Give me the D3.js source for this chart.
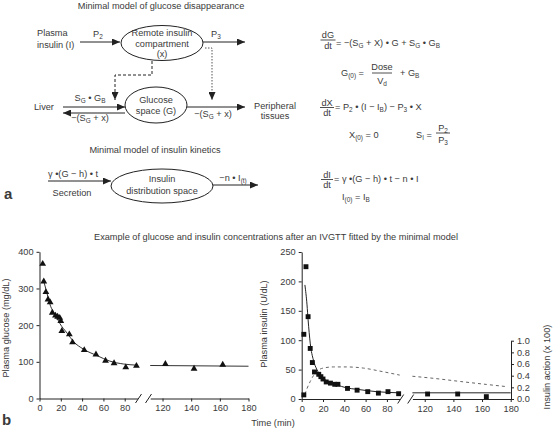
<!DOCTYPE html>
<html><head><meta charset="utf-8">
<script src="https://cdn.jsdelivr.net/npm/d3@7"></script>
<style>body{margin:0;background:#fff}svg{display:block}text{font-family:"Liberation Sans",Arial,sans-serif;fill:#3a3a3a}</style>
</head><body><svg id="c" width="553" height="433"></svg>
<script>
// ---------- data ----------
const glucoseTime  = [3, 4, 6, 8, 10, 12, 15, 17, 19, 20, 21, 28, 31, 42, 53, 62, 70, 81, 91, 122, 142, 162];
const glucoseValue = [367, 319, 290, 270, 262, 234, 226, 223, 220, 211, 184, 175, 153, 132, 120, 103, 96, 85, 89, 94, 81, 92];
const glucoseFitTime  = [4, 7, 10, 15, 19, 26, 32, 41, 54, 66, 79, 91];
const glucoseFitValue = [320, 287, 255, 228, 205, 178, 155, 135, 117, 102, 94, 91];
const glucoseFitLateTime  = [111.4, 180];
const glucoseFitLateValue = [90, 88];

const insulinTime  = [2, 2, 4, 6, 8, 10, 12, 16, 18, 20, 23, 27, 31, 34, 43, 52, 62, 72, 81, 91, 122, 143, 163];
const insulinValue = [7, 110, 225, 140, 86, 62, 46, 42, 38, 34, 29, 27, 25, 25, 18, 15, 12.5, 10, 12.5, 9, 8.5, 8.5, 4];
const insulinFitTime  = [3, 5, 6, 8, 11, 14, 19, 25, 33, 42, 52, 70, 92];
const insulinFitValue = [194, 160, 135, 95, 66, 51, 38, 29, 24, 19, 16.5, 12.5, 10.5];
const insulinFitLateTime  = [111.4, 180];
const insulinFitLateValue = [10.5, 10.5];

const actionTime  = [3, 5, 8, 11, 14, 20, 30, 42, 58, 73, 92];
const actionValue = [0.08, 0.18, 0.30, 0.40, 0.47, 0.53, 0.55, 0.55, 0.53, 0.48, 0.41];
const actionLateTime  = [111.4, 126, 145, 163, 178];
const actionLateValue = [0.39, 0.355, 0.30, 0.25, 0.21];

const xTicksEarly = [0, 20, 40, 60, 80];
const xTicksLate  = [120, 140, 160, 180];
const glucoseTicks = [0, 100, 200, 300, 400];
const insulinTicks = [0, 50, 100, 150, 200, 250];
const actionTicks  = [0, 0.2, 0.4, 0.6, 0.8, 1.0];

// ---------- helpers ----------
const svg = d3.select('#c');
const FS = 9.2;
const INK = '#222';
function rich(sel, x, y, str, anchor, fs) {
  anchor = anchor || 'start'; fs = fs || FS;
  const t = sel.append('text').attr('x', x).attr('y', y).attr('text-anchor', anchor).attr('font-size', fs);
  const re = /_\{([^}]*)\}/g; let last = 0, m, shifted = false;
  while ((m = re.exec(str))) {
    if (m.index > last) { t.append('tspan').attr('dy', shifted ? -2 : 0).text(str.slice(last, m.index)); shifted = false; }
    t.append('tspan').attr('font-size', fs * 0.7).attr('dy', shifted ? 0 : 2).text(m[1]);
    shifted = true; last = re.lastIndex;
  }
  if (last < str.length) t.append('tspan').attr('dy', shifted ? -2 : 0).text(str.slice(last));
  return t;
}
const defs = svg.append('defs');
defs.append('marker').attr('id', 'arr').attr('markerUnits', 'userSpaceOnUse')
  .attr('markerWidth', 9).attr('markerHeight', 7).attr('refX', 8).attr('refY', 3.5).attr('orient', 'auto')
  .append('path').attr('d', 'M0,0L8,3.5L0,7Z').attr('fill', INK);
function arrow(pts, opts) {
  opts = opts || {};
  const p = svg.append('path').attr('d', d3.line()(pts)).attr('fill', 'none')
    .attr('stroke', opts.color || INK).attr('stroke-width', opts.w || 1).attr('marker-end', 'url(#arr)');
  if (opts.dash) p.attr('stroke-dasharray', opts.dash);
  return p;
}
function ellipse(cx, cy, rx, ry) {
  svg.append('ellipse').attr('cx', cx).attr('cy', cy).attr('rx', rx).attr('ry', ry)
    .attr('fill', 'none').attr('stroke', INK).attr('stroke-width', 1);
}
function frac(x, yTop, yLine, yBot, top, bot, w) {
  rich(svg, x, yTop, top, 'middle');
  rich(svg, x, yBot, bot, 'middle');
  svg.append('line').attr('x1', x - w / 2).attr('x2', x + w / 2).attr('y1', yLine).attr('y2', yLine)
    .attr('stroke', INK).attr('stroke-width', 0.8);
}

// ---------- panel a: diagram ----------
rich(svg, 161, 9, 'Minimal model of glucose disappearance', 'middle');
rich(svg, 37, 36, 'Plasma');
rich(svg, 37, 48, 'insulin (I)');
arrow([[80, 42], [120, 42]]);
rich(svg, 93, 37, 'P_{2}');
ellipse(162, 43, 41, 17.5);
rich(svg, 162, 36, 'Remote insulin', 'middle');
rich(svg, 162, 47, 'compartment', 'middle');
rich(svg, 162, 57, '(x)', 'middle');
arrow([[203, 42], [245, 42]]);
rich(svg, 211, 37, 'P_{3}');
arrow([[152, 61], [152, 75], [115, 75], [115, 100]], { dash: '3,2' });
arrow([[205, 48], [212, 48], [212, 100]], { dash: '1.5,1.5', color: '#555' });

ellipse(156, 105, 31, 18);
rich(svg, 156, 103, 'Glucose', 'middle');
rich(svg, 156, 114, 'space (G)', 'middle');
rich(svg, 34, 110, 'Liver');
arrow([[63, 107], [125, 107]]);
arrow([[125, 113], [63, 113]]);
rich(svg, 90, 101, 'S_{G} • G_{B}', 'middle');
rich(svg, 90, 121, '−(S_{G} + x)', 'middle');
arrow([[187, 107], [245, 107]]);
rich(svg, 213, 117, '−(S_{G} + x)', 'middle');
rich(svg, 275, 109, 'Peripheral', 'middle');
rich(svg, 275, 119, 'tissues', 'middle');

rich(svg, 155, 153, 'Minimal model of insulin kinetics', 'middle');
rich(svg, 48, 177, 'γ •(G − h) • t');
arrow([[48, 181], [111, 181]]);
rich(svg, 72, 196, 'Secretion', 'middle');
ellipse(162, 186, 51, 17);
rich(svg, 162, 182, 'Insulin', 'middle');
rich(svg, 162, 194, 'distribution space', 'middle');
arrow([[213, 185], [258, 185]]);
rich(svg, 233, 181, '−n • I_{(t)}', 'middle');
svg.append('text').attr('x', 4).attr('y', 199).attr('font-size', 15).attr('font-weight', 'bold').attr('fill', '#111').text('a');

// equations
frac(328, 37.5, 40, 48.5, 'dG', 'dt', 15);
rich(svg, 336, 46, '= −(S_{G} + X) • G + S_{G} • G_{B}');
rich(svg, 341, 76, 'G_{(0)} =');
frac(382, 70, 73, 84, 'Dose', 'V_{d}', 20);
rich(svg, 400, 76, '+ G_{B}');
frac(327, 105.5, 107.5, 115.5, 'dX', 'dt', 14);
rich(svg, 335, 110, '= P_{2} • (I − I_{B}) − P_{3} • X');
rich(svg, 349, 138, 'X_{(0)} = 0');
rich(svg, 416, 138, 'S_{I} =');
frac(443, 130.5, 133, 143, 'P_{2}', 'P_{3}', 14);
frac(327, 177.5, 179.5, 187.5, 'dI', 'dt', 12);
rich(svg, 334, 182, '= γ •(G − h) • t − n • I');
rich(svg, 342, 200, 'I_{(0)} = I_{B}');

// ---------- panel b: charts ----------
rich(svg, 276, 240, 'Example of glucose and insulin concentrations after an IVGTT fitted by the minimal model', 'middle');

function brokenX(x0) {
  const early = d3.scaleLinear().domain([0, 92]).range([x0, x0 + 98]);
  const late = d3.scaleLinear().domain([111.4, 180]).range([x0 + 110.7, x0 + 209]);
  const f = t => (t < 100 ? early(t) : late(t));
  f.early = early; f.late = late; f.x0 = x0;
  return f;
}
function drawXAxis(x, y0) {
  [[x.early, xTicksEarly], [x.late, xTicksLate]].forEach(([s, tv]) => {
    const g = svg.append('g').attr('transform', `translate(0,${y0})`)
      .call(d3.axisBottom(s).tickValues(tv).tickSize(3).tickSizeOuter(0).tickPadding(3).tickFormat(d3.format('d')));
    styleAxis(g);
  });
  const x0 = x.x0;
  [[96, 102], [106, 112]].forEach(([a, b]) => {
    svg.append('line').attr('x1', x0 + a).attr('y1', y0 + 4.5).attr('x2', x0 + b).attr('y2', y0 - 4.5)
      .attr('stroke', INK).attr('stroke-width', 1);
  });
}
function styleAxis(g) {
  g.selectAll('path.domain').attr('stroke', INK).attr('stroke-width', 1);
  g.selectAll('.tick line').attr('stroke', INK);
  g.selectAll('.tick text').attr('font-size', FS).attr('fill', '#3a3a3a').attr('font-family', '"Liberation Sans",Arial,sans-serif');
}
function series(tArr, vArr) { return tArr.map((t, i) => [t, vArr[i]]); }

// left: glucose
const xL = brokenX(39.5);
const yG = d3.scaleLinear().domain([0, 400]).range([398.5, 251.8]);
styleAxis(svg.append('g').attr('transform', 'translate(39.5,0)')
  .call(d3.axisLeft(yG).tickValues(glucoseTicks).tickSize(3).tickSizeOuter(0).tickPadding(3)));
drawXAxis(xL, 398.5);
const lineG = d3.line().x(d => xL(d[0])).y(d => yG(d[1])).curve(d3.curveMonotoneX);
svg.append('path').attr('d', lineG(series(glucoseFitTime, glucoseFitValue))).attr('fill', 'none').attr('stroke', '#333').attr('stroke-width', 1);
svg.append('path').attr('d', lineG(series(glucoseFitLateTime, glucoseFitLateValue))).attr('fill', 'none').attr('stroke', '#333').attr('stroke-width', 1);
svg.append('g').selectAll('path').data(series(glucoseTime, glucoseValue)).join('path')
  .attr('transform', d => `translate(${xL(d[0])},${yG(d[1])})`)
  .attr('d', d3.symbol(d3.symbolTriangle, 20)).attr('fill', '#111');
svg.append('text').attr('transform', 'translate(9,328) rotate(-90)').attr('text-anchor', 'middle').attr('font-size', FS).text('Plasma glucose (mg/dL)');

// right: insulin
const xR = brokenX(301.7);
const yI = d3.scaleLinear().domain([0, 250]).range([399, 252]);
const yA = d3.scaleLinear().domain([0, 1]).range([399, 340.7]);
styleAxis(svg.append('g').attr('transform', 'translate(301.7,0)')
  .call(d3.axisLeft(yI).tickValues(insulinTicks).tickSize(3).tickSizeOuter(0).tickPadding(3)));
styleAxis(svg.append('g').attr('transform', 'translate(511,0)')
  .call(d3.axisRight(yA).tickValues(actionTicks).tickSize(3).tickSizeOuter(0).tickPadding(3).tickFormat(d3.format('.1f'))));
drawXAxis(xR, 399);
const lineI = d3.line().x(d => xR(d[0])).y(d => yI(d[1])).curve(d3.curveMonotoneX);
const lineA = d3.line().x(d => xR(d[0])).y(d => yA(d[1])).curve(d3.curveMonotoneX);
[series(actionTime, actionValue), series(actionLateTime, actionLateValue)].forEach(s => {
  svg.append('path').attr('d', lineA(s)).attr('fill', 'none').attr('stroke', '#666').attr('stroke-width', 1).attr('stroke-dasharray', '3,3');
});
[series(insulinFitTime, insulinFitValue), series(insulinFitLateTime, insulinFitLateValue)].forEach(s => {
  svg.append('path').attr('d', lineI(s)).attr('fill', 'none').attr('stroke', '#222').attr('stroke-width', 1);
});
svg.append('g').selectAll('path').data(series(insulinTime, insulinValue)).join('path')
  .attr('transform', d => `translate(${xR(d[0])},${yI(d[1])})`)
  .attr('d', d3.symbol(d3.symbolSquare, 24)).attr('fill', '#111');
svg.append('text').attr('transform', 'translate(267,324) rotate(-90)').attr('text-anchor', 'middle').attr('font-size', FS).text('Plasma insulin (U/dL)');
svg.append('text').attr('transform', 'translate(550,367) rotate(-90)').attr('text-anchor', 'middle').attr('font-size', FS).text('Insulin action (x 100)');

svg.append('text').attr('x', 273).attr('y', 426).attr('text-anchor', 'middle').attr('font-size', FS).text('Time (min)');
svg.append('text').attr('x', 2).attr('y', 425).attr('font-size', 15).attr('font-weight', 'bold').attr('fill', '#111').text('b');
</script></body></html>
